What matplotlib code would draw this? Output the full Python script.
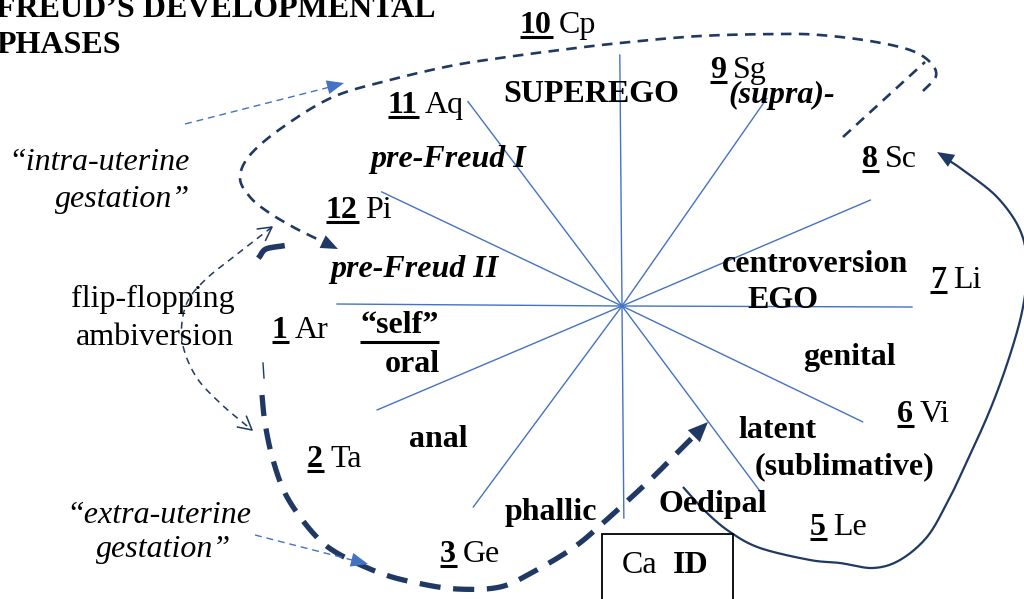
import numpy as np
import matplotlib
matplotlib.use('Agg')
import matplotlib.pyplot as plt
from matplotlib.patches import Rectangle, Polygon

plt.rcParams['font.family'] = ['Liberation Serif', 'DejaVu Serif']

NAVY = '#1f3864'
BLUE = '#4472c4'
FS = 23

# ---------------- data ----------------
ray_angles = [90.5, 55.1, 23.1, -0.2, -25.7, -53.3, -89.5, -126.5, -157.0, 179.6, 154.6, 127.0]
ray_lengths = [251, 253, 270, 290, 267, 231, 212, 250, 266, 285, 266, 256]

sign_nums = ['1', '2', '3', '5', '6', '7', '8', '9', '10', '11', '12']
sign_names = ['Ar', 'Ta', 'Ge', 'Le', 'Vi', 'Li', 'Sc', 'Sg', 'Cp', 'Aq', 'Pi']
sign_pos = [(272, 338), (307, 467), (440, 562), (810, 535), (897, 422), (930, 288),
            (862, 167), (710, 78), (520, 33), (388, 113), (326, 218)]

phase_texts = ['SUPEREGO', '(supra)-', 'pre-Freud I', 'pre-Freud II', 'centroversion', 'EGO',
               'oral', 'genital', 'anal', 'latent', '(sublimative)', 'phallic', 'Oedipal']
phase_pos = [(503, 102), (728, 103), (370, 167), (330, 277), (722, 272), (747, 308),
             (440, 372), (803, 365), (409, 447), (738, 438), (755, 474), (505, 520), (658, 512)]
phase_italic = [False, True, True, True, False, False, False, False, False, False, False, False, False]
phase_ha = ['left'] * 6 + ['right'] + ['left'] * 6

title_lines = ['FREUD\u2019S DEVELOPMENTAL', 'PHASES']

# ---------------- figure ----------------
fig = plt.figure(figsize=(10.24, 5.99), dpi=100)
ax = fig.add_axes([0, 0, 1, 1])
ax.set_xlim(0, 1024)
ax.set_ylim(599, 0)
ax.axis('off')
renderer = fig.canvas.get_renderer()
inv = ax.transData.inverted()

# star of rays
cx, cy = 622, 306
for a, L in zip(ray_angles, ray_lengths):
    r = np.deg2rad(a)
    ax.plot([cx, cx + L * np.cos(r)], [cy, cy - L * np.sin(r)], color=BLUE, lw=1.0, zorder=1)


def catmull(pts, n=20):
    p = np.asarray(pts, float)
    p = np.vstack([p[0], p, p[-1]])
    out = []
    for i in range(1, len(p) - 2):
        p0, p1, p2, p3 = p[i - 1], p[i], p[i + 1], p[i + 2]
        t = np.linspace(0, 1, n, endpoint=False)[:, None]
        out.append(0.5 * ((2 * p1) + (-p0 + p2) * t + (2 * p0 - 5 * p1 + 4 * p2 - p3) * t ** 2
                          + (-p0 + 3 * p1 - 3 * p2 + p3) * t ** 3))
    out.append(p[-2][None, :])
    return np.vstack(out)


def head(tip, frm, L, W, color, filled=True, lw=1.2):
    tip = np.asarray(tip, float); frm = np.asarray(frm, float)
    u = (tip - frm) / np.linalg.norm(tip - frm)
    nvec = np.array([-u[1], u[0]])
    b = tip - L * u
    p1 = b + W / 2 * nvec
    p2 = b - W / 2 * nvec
    if filled:
        ax.add_patch(Polygon([tip, p1, p2], closed=True, color=color, lw=0, zorder=5))
    else:
        ax.plot([p1[0], tip[0], p2[0]], [p1[1], tip[1], p2[1]], color=color, lw=lw, zorder=5)


def curve(pts, color, lw, dash=None):
    c = catmull(pts)
    ls = '-' if dash is None else (0, dash)
    ax.plot(c[:, 0], c[:, 1], color=color, lw=lw, ls=ls, zorder=4,
            solid_capstyle='butt', dash_capstyle='butt')
    return c

# Curve A: superego loop (dashed navy)
ax.plot([843, 925], [137, 62], color=NAVY, lw=1.9, ls=(0, (4, 2.8)), dash_capstyle='butt', zorder=4)
ptsA = [(923, 91), (936, 76), (930, 62), (910, 50), (870, 41), (820, 35), (780, 34), (700, 36),
        (620, 43), (560, 50), (500, 58), (450, 66), (390, 80), (333, 97), (283, 127), (250, 155),
        (240, 178), (250, 197), (268, 212), (293, 227), (315, 238), (326, 243)]
curve(ptsA, NAVY, 1.9, (4, 2.8))
head((338, 249), (315, 238), 17, 14, NAVY)

# Curve B: thick dashed navy
ptsB = [(262, 395), (265, 423), (273, 460), (287, 497), (313, 533), (337, 553), (380, 573),
        (417, 583), (457, 589), (500, 587), (533, 572), (573, 548), (603, 523), (650, 480),
        (677, 453), (695, 435)]
curve(ptsB, NAVY, 3.8, (4, 2.4))
head((708, 422), (680, 450), 20, 17, NAVY)
ax.plot(*catmull([(260, 256), (266, 249), (282, 246)]).T, color=NAVY, lw=4.0, zorder=4)
ax.plot([263, 264], [363, 378], color=NAVY, lw=1.0, zorder=4)

# Curve C: flip-flopping double arrow (thin dashed navy)
ptsC = [(272, 227), (240, 252), (205, 280), (186, 305), (182, 340), (195, 375), (220, 403), (252, 430)]
curve(ptsC, NAVY, 1.1, (4.5, 3.5))
head((272, 227), (250, 243), 13, 14, NAVY, filled=False, lw=1.1)
head((252, 430), (228, 410), 13, 14, NAVY, filled=False, lw=1.1)

# Curve D / E: thin dashed blue pointers
ax.plot([185, 330], [124, 87], color=BLUE, lw=1.0, ls=(0, (5, 3.5)), zorder=4)
head((344, 83), (185, 124), 17, 14, BLUE)
ax.plot([255, 352], [535, 560], color=BLUE, lw=1.0, ls=(0, (5, 3.5)), zorder=4)
head((368, 564), (255, 535), 17, 14, BLUE)

# Curve F: solid navy from Oedipal to Sc
ptsF = [(683, 487), (706, 512), (730, 532), (760, 548), (810, 560), (840, 563), (873, 568), (900, 560),
        (927, 537), (947, 503), (963, 470), (990, 410), (1010, 355), (1023, 307), (1027, 265), (1020, 230),
        (997, 197), (963, 170), (948, 160)]
curve(ptsF, NAVY, 1.6)
head((937, 152), (965, 169), 17, 14, NAVY)

# ---------------- texts ----------------
ax.text(-4, 17, title_lines[0], fontsize=FS, fontweight='bold', va='baseline', ha='left')
ax.text(-4, 53, title_lines[1], fontsize=FS, fontweight='bold', va='baseline', ha='left')

for num, name, (x, y) in zip(sign_nums, sign_names, sign_pos):
    t = ax.text(x, y, num, fontsize=FS, fontweight='bold', va='baseline', ha='left', zorder=6)
    bb = t.get_window_extent(renderer)
    x0 = inv.transform((bb.x0, 0))[0]
    x1 = inv.transform((bb.x1, 0))[0]
    ax.plot([x0, x1 + 1], [y + 4, y + 4], color='black', lw=2.2, solid_capstyle='butt', zorder=6)
    ax.text(x1 + 7, y, name, fontsize=FS, va='baseline', ha='left', zorder=6)

for txt, (x, y), it, ha in zip(phase_texts, phase_pos, phase_italic, phase_ha):
    ax.text(x, y, txt, fontsize=FS, fontweight='bold', fontstyle='italic' if it else 'normal',
            va='baseline', ha=ha, zorder=6)

# "self" underlined
t = ax.text(360, 333, '\u201cself\u201d', fontsize=FS, fontweight='bold', va='baseline', ha='left', zorder=6)
bb = t.get_window_extent(renderer)
ax.plot([inv.transform((bb.x0, 0))[0], inv.transform((bb.x1, 0))[0]], [342, 342],
        color='black', lw=2.2, solid_capstyle='butt', zorder=6)

ax.text(153, 307, 'flip-flopping', fontsize=FS, va='baseline', ha='center', zorder=6)
ax.text(155, 345, 'ambiversion', fontsize=FS, va='baseline', ha='center', zorder=6)
ax.text(190, 170, '\u201cintra-uterine', fontsize=FS, fontstyle='italic', va='baseline', ha='right', zorder=6)
ax.text(190, 207, 'gestation\u201d', fontsize=FS, fontstyle='italic', va='baseline', ha='right', zorder=6)
ax.text(159, 523, '\u201cextra-uterine', fontsize=FS, fontstyle='italic', va='baseline', ha='center', zorder=6)
ax.text(164, 557, 'gestation\u201d', fontsize=FS, fontstyle='italic', va='baseline', ha='center', zorder=6)

# Ca ID box
ax.add_patch(Rectangle((602, 534), 131, 70, fill=True, facecolor='white', edgecolor='black', lw=1.3, zorder=6))
ax.text(622, 573, 'Ca', fontsize=FS, va='baseline', ha='left', zorder=7)
ax.text(673, 573, 'ID', fontsize=FS, fontweight='bold', va='baseline', ha='left', zorder=7)

fig.savefig('out.png', dpi=100)
